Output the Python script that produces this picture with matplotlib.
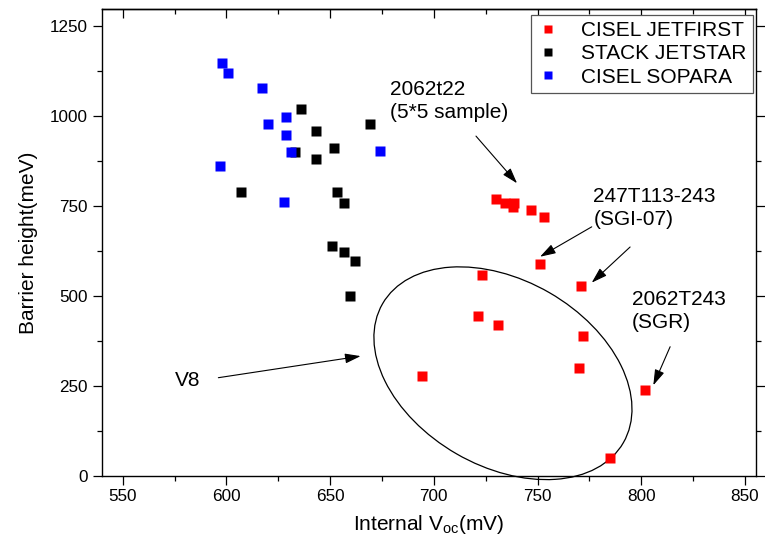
import matplotlib
matplotlib.use('Agg')
import matplotlib.pyplot as plt
import matplotlib.transforms as mtransforms
from matplotlib.patches import Ellipse
from matplotlib.ticker import MultipleLocator, NullFormatter

plt.rcParams['font.family'] = ['Liberation Sans', 'DejaVu Sans']

# CISEL JETFIRST
jetfirst_voc = [730.1, 734.2, 738.8, 738.0, 747.0, 753.0, 751.0, 723.1,
                771.1, 721.1, 730.9, 771.9, 770.0, 694.1, 801.8, 784.9]
jetfirst_bh = [768, 759, 759, 746, 738, 718, 588, 559,
               528, 444, 419, 388, 299, 277, 238, 50]

# STACK JETSTAR
jetstar_voc = [636.0, 643.0, 633.0, 651.7, 643.0, 669.0, 606.9, 653.3,
               656.7, 650.9, 656.8, 662.0, 659.4]
jetstar_bh = [1020, 959, 900, 911, 881, 978, 788, 788,
              759, 638, 621, 597, 499]

# CISEL SOPARA
sopara_voc = [597.9, 600.9, 617.0, 619.9, 628.9, 628.9, 631.0, 597.0, 627.9, 674.0]
sopara_bh = [1148, 1118, 1078, 977, 998, 948, 899, 862, 761, 902]

fig = plt.figure(figsize=(7.65, 5.5), dpi=100)
ax = fig.add_axes([102 / 765, 1 - 476 / 550, 654 / 765, 467 / 550])

ms = 7.2
ax.plot(jetfirst_voc, jetfirst_bh, 's', color='#ff0000', ms=ms, mec='none', label='CISEL JETFIRST')
ax.plot(jetstar_voc, jetstar_bh, 's', color='black', ms=ms, mec='none', label='STACK JETSTAR')
ax.plot(sopara_voc, sopara_bh, 's', color='#0000ff', ms=ms, mec='none', label='CISEL SOPARA')

ax.set_xlim(540, 855.3)
ax.set_ylim(0, 1297)
ax.xaxis.set_major_locator(MultipleLocator(50))
ax.xaxis.set_minor_locator(MultipleLocator(25))
ax.yaxis.set_major_locator(MultipleLocator(250))
ax.yaxis.set_minor_locator(MultipleLocator(125))

ax.tick_params(which='both', labelsize=12.3, width=0.9, color='black', direction='out')
ax.tick_params(axis='x', which='both', pad=3)
ax.tick_params(axis='y', which='both', pad=4, right=True)
ax.tick_params(which='major', length=6.5)
ax.tick_params(which='minor', length=3.6)
for sp in ax.spines.values():
    sp.set_linewidth(1.0)

# top axis: ticks pointing into the plot, no labels
top = ax.secondary_xaxis('top')
top.xaxis.set_major_locator(MultipleLocator(50))
top.xaxis.set_minor_locator(MultipleLocator(25))
top.xaxis.set_major_formatter(NullFormatter())
top.tick_params(which='both', direction='in', width=0.9)
top.tick_params(which='major', length=6.5)
top.tick_params(which='minor', length=3.6)
top.spines['top'].set_linewidth(1.0)

ax.set_xlabel('Internal V$_{\\mathregular{oc}}$(mV)', fontsize=15, labelpad=6)
ax.set_ylabel('Barrier height(meV)', fontsize=15, labelpad=8)

leg = ax.legend(loc='upper right', bbox_to_anchor=(0.9954, 0.9872), fontsize=15,
                frameon=True, fancybox=False, edgecolor='#555555', framealpha=1,
                markerscale=0.75, handlelength=1.0, handletextpad=1.1,
                borderpad=0.3, labelspacing=0.2, borderaxespad=0)
leg.get_frame().set_linewidth(0.9)

# ellipse drawn in pixel units around a data-space centre
ell_trans = mtransforms.ScaledTranslation(733.3, 285.4, ax.transData)
ax.add_patch(Ellipse((0, 0), 278, 186, angle=-30, transform=ell_trans,
                     fill=False, edgecolor='black', lw=0.9, clip_on=False))

arrow = dict(arrowstyle='-|>,head_length=0.95,head_width=0.3', color='black',
             lw=0.8, mutation_scale=10, shrinkA=0, shrinkB=0)
fs = 15
ax.text(678.9, 1041, '2062t22\n(5*5 sample)', fontsize=fs, va='center', ha='left', linespacing=1.25)
ax.annotate('', xy=(740.1, 813), xytext=(720.3, 944), arrowprops=arrow)

ax.text(776.9, 745, '247T113-243\n(SGI-07)', fontsize=fs, va='center', ha='left', linespacing=1.25)
ax.annotate('', xy=(751.2, 609), xytext=(776.1, 692), arrowprops=arrow)
ax.annotate('', xy=(776.1, 537), xytext=(794.6, 636), arrowprops=arrow)

ax.text(795.4, 458, '2062T243\n(SGR)', fontsize=fs, va='center', ha='left', linespacing=1.25)
ax.annotate('', xy=(805.8, 252), xytext=(813.9, 359), arrowprops=arrow)

ax.text(575.2, 266, 'V8', fontsize=fs, va='center', ha='left')
ax.annotate('', xy=(664.7, 333), xytext=(596.1, 273), arrowprops=arrow)

fig.savefig('out.png', dpi=100)
